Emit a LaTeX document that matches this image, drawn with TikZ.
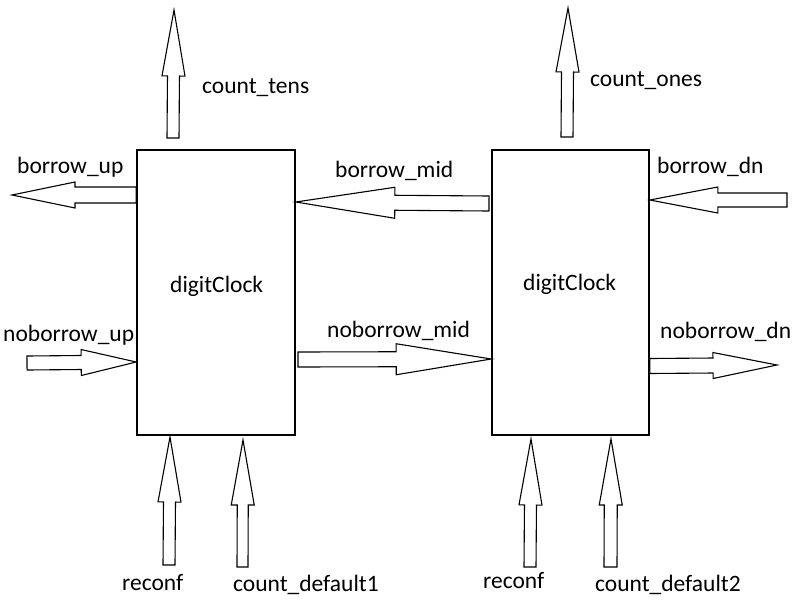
\documentclass[tikz,border=0pt]{standalone}
\usepackage{fontspec}
\setmainfont{Carlito}
\usetikzlibrary{calc}
\tikzset{
  blockbox/.style={draw, line width=1.6pt, rectangle, minimum width=158pt, minimum height=285pt, inner sep=0pt},
  lbl/.style={anchor=base west, inner sep=0pt, font=\fontsize{23.5}{28}\selectfont},
  blockarrow/.style={draw, line width=1.1pt, fill=white, line join=miter},
}
% tail, tip, half shaft, half head, head length
\newcommand\blockarr[5]{%
  \coordinate (hb) at ($(#2)!#5!(#1)$);
  \draw[blockarrow] ($(#1)!#3!90:(#2)$) -- ($(hb)!#3!90:(#2)$) -- ($(hb)!#4!90:(#2)$) -- (#2)
     -- ($(hb)!#4!-90:(#2)$) -- ($(hb)!#3!-90:(#2)$) -- ($(#1)!#3!-90:(#2)$) -- cycle;
}
\begin{document}
\begin{tikzpicture}[x=1pt,y=-1pt]
\useasboundingbox (0,0) rectangle (800,600);
\fill[white] (0,0) rectangle (800,600);

\node[blockbox] (box1) at (216,292.5) {};
\node[blockbox, minimum width=157pt] (box2) at (570.5,292.5) {};
\node[lbl] (dc1) at (170,292) {digitClock};
\node[lbl] (dc2) at (523,290) {digitClock};

% coordinates for arrow ends
\coordinate (ctTail) at (173,138);   \coordinate (ctTip) at (174,10);
\coordinate (coTail) at (567,137);   \coordinate (coTip) at (568,8);
\coordinate (buTail) at (box1.west |- 0,195); \coordinate (buTip) at (12,195);
\coordinate (bmTail) at (489,203.5); \coordinate (bmTip) at (box1.east |- 0,202);
\coordinate (bdTail) at (787,200);   \coordinate (bdTip) at (box2.east |- 0,200);
\coordinate (nuTail) at (27,363);    \coordinate (nuTip) at (box1.west |- 0,362);
\coordinate (nmTail) at (298,359.5); \coordinate (nmTip) at (box2.west |- 0,359);
\coordinate (ndTail) at (box2.east |- 0,366); \coordinate (ndTip) at (777,365);
\coordinate (r1Tail) at (169,565);   \coordinate (r1Tip) at (170,437);
\coordinate (c1Tail) at (242.5,567); \coordinate (c1Tip) at (243,440);
\coordinate (r2Tail) at (530,567);   \coordinate (r2Tip) at (531,439);
\coordinate (c2Tail) at (610.5,567); \coordinate (c2Tip) at (611,439);

\blockarr{ctTail}{ctTip}{6pt}{11.5pt}{66pt}
\blockarr{coTail}{coTip}{6pt}{11.5pt}{64pt}
\blockarr{buTail}{buTip}{8pt}{13pt}{63pt}
\blockarr{bmTail}{bmTip}{7.5pt}{15.5pt}{99pt}
\blockarr{bdTail}{bdTip}{7pt}{13pt}{68pt}
\blockarr{nuTail}{nuTip}{7pt}{13pt}{55pt}
\blockarr{nmTail}{nmTip}{7.5pt}{15.5pt}{95pt}
\blockarr{ndTail}{ndTip}{7.5pt}{13pt}{64pt}
\blockarr{r1Tail}{r1Tip}{6pt}{11.5pt}{65pt}
\blockarr{c1Tail}{c1Tip}{5.5pt}{11.5pt}{65pt}
\blockarr{r2Tail}{r2Tip}{6pt}{11.5pt}{66pt}
\blockarr{c2Tail}{c2Tip}{6.5pt}{11.5pt}{66pt}

\node[lbl] (lct) at (202,93) {count\_tens};
\node[lbl] (lco) at (590,86) {count\_ones};
\node[lbl] (lbu) at (17,173) {borrow\_up};
\node[lbl] (lbm) at (335,177) {borrow\_mid};
\node[lbl] (lbd) at (657,173) {borrow\_dn};
\node[lbl] (lnu) at (3,341) {noborrow\_up};
\node[lbl] (lnm) at (327,337) {noborrow\_mid};
\node[lbl] (lnd) at (660,338) {noborrow\_dn};
\node[lbl] (lr1) at (122,590) {reconf};
\node[lbl] (lc1) at (233,591) {count\_default1};
\node[lbl] (lr2) at (483,588) {reconf};
\node[lbl] (lc2) at (595,591) {count\_default2};
\end{tikzpicture}
\end{document}
